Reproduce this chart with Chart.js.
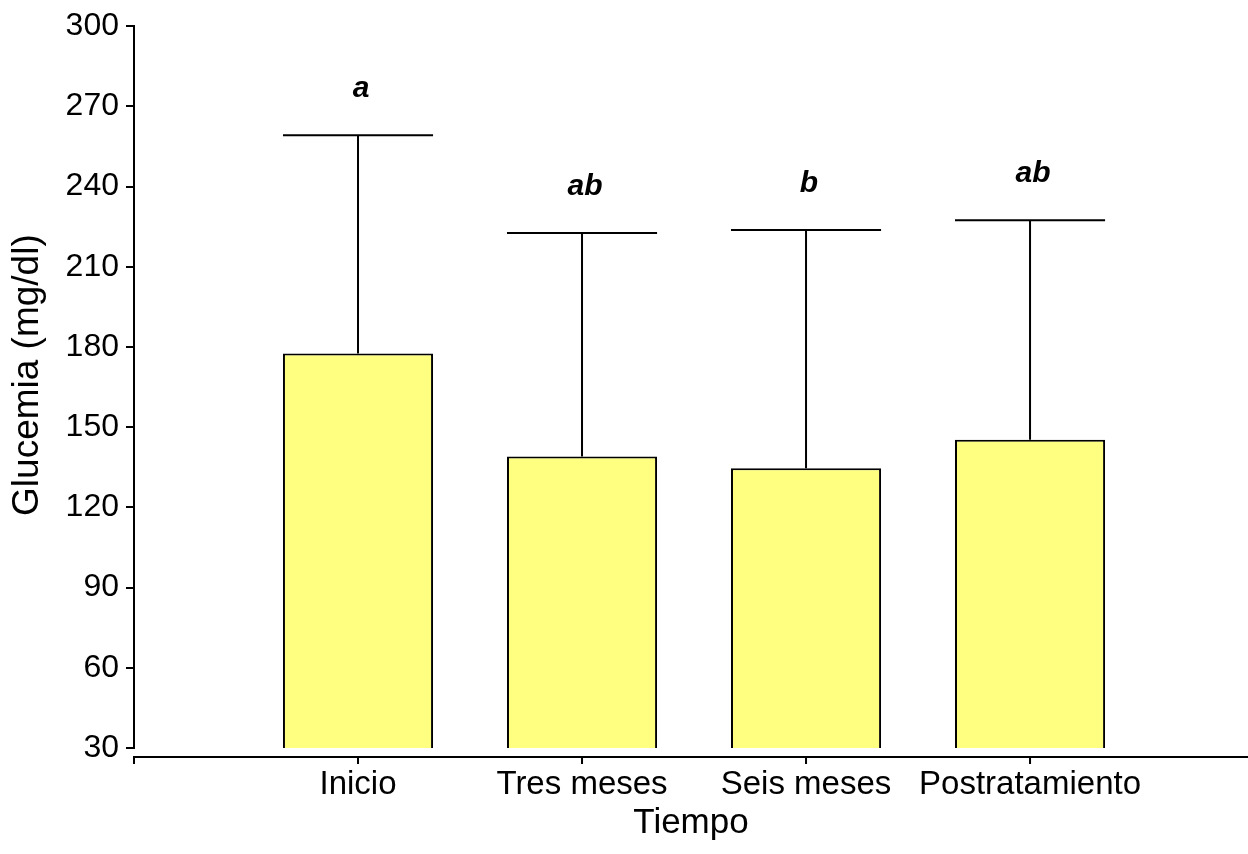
<!DOCTYPE html>
<html>
<head>
<meta charset="utf-8">
<title>Glucemia</title>
<script src="https://cdn.jsdelivr.net/npm/chart.js@4/dist/chart.umd.min.js"></script>
<style>
  html, body { margin: 0; padding: 0; background: #ffffff; }
  #wrap { width: 1248px; height: 854px; }
</style>
</head>
<body>
<div id="wrap"><canvas id="chart" width="1248" height="854"></canvas></div>
<script>
// Glucemia media (mg/dl) por momento del tratamiento, con desviación estándar
const categories = ['Inicio', 'Tres meses', 'Seis meses', 'Postratamiento'];
const means = [177.6, 139.0, 134.6, 145.3];
const sd = [81.6, 83.6, 89.2, 82.1];
const groups = ['a', 'ab', 'b', 'ab'];
const yTicks = [30, 60, 90, 120, 150, 180, 210, 240, 270, 300];
const yTitle = 'Glucemia (mg/dl)';
const xTitle = 'Tiempo';

const FONT = "'Liberation Sans', Arial, Helvetica, sans-serif";

// Upper error bars (stem + cap as wide as the bar) and significance letters
const errorBars = {
  id: 'errorBars',
  afterDatasetsDraw(chart) {
    const meta = chart.getDatasetMeta(0);
    const y = chart.scales.y;
    const ctx = chart.ctx;
    ctx.save();
    ctx.strokeStyle = '#000';
    ctx.lineWidth = 2;
    meta.data.forEach((bar, i) => {
      const x = bar.x;
      const half = bar.width / 2;
      const yMean = y.getPixelForValue(means[i]);
      const yTop = y.getPixelForValue(means[i] + sd[i]);
      ctx.beginPath();
      ctx.moveTo(x, yMean);
      ctx.lineTo(x, yTop);
      ctx.moveTo(x - half, yTop);
      ctx.lineTo(x + half, yTop);
      ctx.stroke();
      ctx.fillStyle = '#000';
      ctx.font = "italic bold 30px " + FONT;
      ctx.textAlign = 'center';
      ctx.textBaseline = 'alphabetic';
      ctx.fillText(groups[i], x + 3, yTop - 38);
    });
    ctx.restore();
  }
};

// Detached x axis line with its tick marks, drawn just below the plot area,
// plus the vertical axis title
const axisExtras = {
  id: 'axisExtras',
  afterDraw(chart) {
    const xs = chart.scales.x;
    const area = chart.chartArea;
    const ctx = chart.ctx;
    const yLine = area.bottom + 9;
    ctx.save();
    ctx.strokeStyle = '#000';
    ctx.lineWidth = 2;
    ctx.beginPath();
    ctx.moveTo(area.left - 1, yLine);
    ctx.lineTo(area.right, yLine);
    xs.ticks.forEach(t => {
      const px = xs.getPixelForValue(t.value);
      ctx.moveTo(px, yLine);
      ctx.lineTo(px, yLine + 7);
    });
    ctx.stroke();

    ctx.translate(28, (area.top + area.bottom) / 2 - 12);
    ctx.rotate(-Math.PI / 2);
    ctx.fillStyle = '#000';
    ctx.font = "37px " + FONT;
    ctx.textAlign = 'center';
    ctx.textBaseline = 'middle';
    ctx.fillText(yTitle, 0, 0);
    ctx.restore();
  }
};

new Chart(document.getElementById('chart'), {
  type: 'bar',
  data: {
    datasets: [{
      data: categories.map((c, i) => ({ x: i + 1, y: means[i] })),
      backgroundColor: '#ffff80',
      borderColor: '#000000',
      borderWidth: 2,
      borderSkipped: false,
      categoryPercentage: 1,
      barPercentage: 0.67
    }]
  },
  options: {
    responsive: false,
    animation: false,
    events: [],
    layout: { padding: { left: 0, right: 0, top: 24, bottom: 0 } },
    plugins: {
      legend: { display: false },
      tooltip: { enabled: false },
      title: { display: false }
    },
    scales: {
      x: {
        type: 'linear',
        offset: false,
        min: 0,
        max: 4.973,
        border: { display: false },
        grid: { display: false },
        ticks: {
          stepSize: 1,
          includeBounds: false,
          autoSkip: false,
          maxRotation: 0,
          minRotation: 0,
          padding: 9,
          color: '#000',
          font: { family: FONT, size: 33 },
          callback: v => (Number.isInteger(v) && v >= 1 && v <= categories.length) ? categories[v - 1] : ''
        },
        title: {
          display: true,
          text: xTitle,
          color: '#000',
          font: { family: FONT, size: 35, lineHeight: 1.2 },
          padding: { top: 0, bottom: 10 }
        },
        afterFit: s => { s.height = 106; }
      },
      y: {
        type: 'linear',
        min: 30,
        max: 300,
        afterBuildTicks: s => { s.ticks = yTicks.map(v => ({ value: v })); },
        border: { display: true, color: '#000', width: 2 },
        grid: { display: true, drawOnChartArea: false, drawTicks: true, tickLength: 8, color: '#000', lineWidth: 2 },
        ticks: {
          padding: 7,
          color: '#000',
          font: { family: FONT, size: 32 }
        },
        title: { display: false },
        afterFit: s => { s.width = 134; }
      }
    }
  },
  plugins: [errorBars, axisExtras]
});
</script>
</body>
</html>
